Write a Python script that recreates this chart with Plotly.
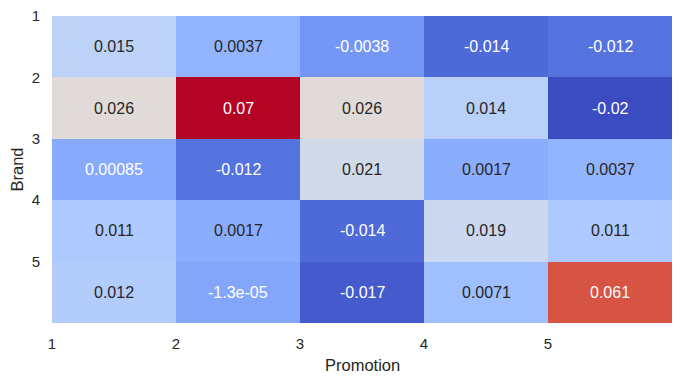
import plotly.graph_objects as go

brands = ["1", "2", "3", "4", "5"]
promotions = ["1", "2", "3", "4", "5"]
values = [
    [0.015, 0.0037, -0.0038, -0.014, -0.012],
    [0.026, 0.07, 0.026, 0.014, -0.02],
    [0.00085, -0.012, 0.021, 0.0017, 0.0037],
    [0.011, 0.0017, -0.014, 0.019, 0.011],
    [0.012, -1.3e-05, -0.017, 0.0071, 0.061],
]

coolwarm = [
    (59, 76, 192), (68, 90, 204), (77, 104, 215), (87, 117, 225), (98, 130, 234),
    (108, 142, 241), (119, 154, 247), (130, 165, 251), (141, 176, 254), (152, 185, 255),
    (163, 194, 255), (174, 201, 253), (184, 208, 249), (194, 213, 244), (204, 217, 238),
    (213, 219, 230), (221, 221, 221), (229, 216, 209), (236, 211, 197), (241, 204, 184),
    (245, 196, 172), (247, 187, 159), (247, 177, 147), (247, 166, 134), (244, 154, 123),
    (241, 141, 111), (236, 127, 99), (229, 112, 89), (222, 96, 77), (213, 80, 66),
    (203, 62, 56), (192, 40, 47), (180, 4, 38),
]
n = len(coolwarm) - 1
colorscale = [[i / n, "rgb(%d,%d,%d)" % c] for i, c in enumerate(coolwarm)]

flat = [v for row in values for v in row]
vmin, vmax = min(flat), max(flat)


def cmap(t):
    t = min(max(t, 0), 1) * n
    i = min(int(t), n - 1)
    f = t - i
    a, b = coolwarm[i], coolwarm[i + 1]
    return tuple(a[k] + (b[k] - a[k]) * f for k in range(3))


def lum(rgb):
    out = []
    for c in rgb:
        c = c / 255
        out.append(c / 12.92 if c <= 0.03928 else ((c + 0.055) / 1.055) ** 2.4)
    return 0.2126 * out[0] + 0.7152 * out[1] + 0.0722 * out[2]


FONT = "Liberation Sans, Arial"

fig = go.Figure(
    go.Heatmap(
        z=values,
        x=[i + 0.5 for i in range(len(promotions))],
        y=[i + 0.5 for i in range(len(brands))],
        colorscale=colorscale,
        zmin=vmin,
        zmax=vmax,
        showscale=False,
        xgap=0,
        ygap=0,
    )
)

annotations = []
for r, row in enumerate(values):
    for c, v in enumerate(row):
        col = cmap((v - vmin) / (vmax - vmin))
        tc = "#262626" if lum(col) > 0.408 else "white"
        annotations.append(
            dict(
                x=c + 0.5, y=r + 0.5, text="{:.2g}".format(v), showarrow=False,
                font=dict(color=tc, size=16, family=FONT),
            )
        )

annotations.append(dict(
    text="Promotion", xref="paper", yref="paper", x=0.5, y=0, yanchor="middle",
    yshift=-42, showarrow=False, font=dict(size=16.5, family=FONT, color="#262626"),
))
annotations.append(dict(
    text="Brand", xref="paper", yref="paper", x=0, y=0.5, xanchor="center",
    xshift=-36, textangle=-90, showarrow=False,
    font=dict(size=16.5, family=FONT, color="#262626"),
))

fig.update_layout(
    width=682,
    height=382,
    margin=dict(l=52, r=10, t=16, b=59),
    paper_bgcolor="white",
    plot_bgcolor="white",
    annotations=annotations,
    font=dict(family=FONT, color="#262626"),
    xaxis=dict(
        range=[0, 5], tickvals=[0, 1, 2, 3, 4], ticktext=promotions,
        showgrid=False, zeroline=False, ticks="outside", ticklen=7,
        tickcolor="rgba(0,0,0,0)", tickfont=dict(size=15), automargin=False,
    ),
    yaxis=dict(
        range=[5, 0], tickvals=[0, 1, 2, 3, 4], ticktext=brands,
        showgrid=False, zeroline=False, ticks="outside", ticklen=8,
        tickcolor="rgba(0,0,0,0)", tickfont=dict(size=15), automargin=False,
    ),
)

fig.write_html(
    "out.html",
    config={"displayModeBar": False},
    post_script="document.body.style.margin='0';",
)
